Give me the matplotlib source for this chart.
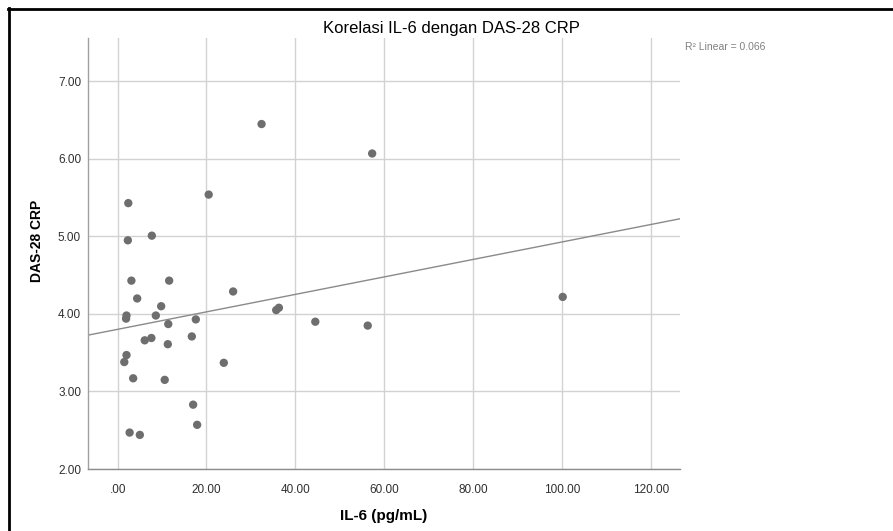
import numpy as np
import matplotlib.pyplot as plt
from matplotlib.lines import Line2D

plt.rcParams['font.family'] = ['Liberation Sans', 'DejaVu Sans']

# IL-6 (pg/mL) and DAS-28 CRP
il6 = [32.4, 57.3, 20.5, 2.4, 2.3, 7.7, 3.1, 11.6, 26.0, 4.4, 9.8, 2.0,
       1.9, 8.6, 11.4, 17.6, 35.7, 36.3, 44.5, 56.3, 100.2, 6.1, 7.6, 11.3,
       16.7, 2.0, 1.5, 23.9, 3.5, 10.6, 17.0, 17.9, 2.7, 5.0]
das28 = [6.45, 6.07, 5.54, 5.43, 4.95, 5.01, 4.43, 4.43, 4.29, 4.20, 4.10, 3.98,
         3.94, 3.98, 3.87, 3.93, 4.05, 4.08, 3.90, 3.85, 4.22, 3.66, 3.69, 3.61,
         3.71, 3.47, 3.38, 3.37, 3.17, 3.15, 2.83, 2.57, 2.47, 2.44]

xticks = [0, 20, 40, 60, 80, 100, 120]
xticklabels = ['.00', '20.00', '40.00', '60.00', '80.00', '100.00', '120.00']
yticks = [2, 3, 4, 5, 6, 7]
yticklabels = ['2.00', '3.00', '4.00', '5.00', '6.00', '7.00']
r2_text = 'R\u00b2 Linear = 0.066'

x = np.array(il6)
y = np.array(das28)
slope, intercept = np.polyfit(x, y, 1)

fig = plt.figure(figsize=(8.93, 5.31), dpi=100)
ax = fig.add_axes([88/893, 1-469/531, (680-88)/893, (469-38)/531])

xmin, xmax = -6.67, 126.6
ax.set_xlim(xmin, xmax)
ax.set_ylim(2.0, 7.56)

ax.grid(True, color='#d2d2d2', linewidth=1.0)
ax.set_axisbelow(True)
for s in ['top', 'right']:
    ax.spines[s].set_visible(False)
ax.spines['left'].set_color('#a0a0a0')
ax.spines['bottom'].set_color('#8c8c8c')
ax.spines['left'].set_linewidth(1.0)
ax.spines['bottom'].set_linewidth(1.0)

ax.set_xticks(xticks)
ax.set_xticklabels(xticklabels)
ax.set_yticks(yticks)
ax.set_yticklabels(yticklabels)
ax.tick_params(length=0, labelsize=8.5, colors='#303030', pad=5)
ax.tick_params(axis='x', pad=11)

xs = np.array([xmin, xmax])
ax.plot(xs, intercept + slope*xs, color='#8a8a8a', linewidth=1.0, zorder=2)
ax.scatter(x, y, s=36, color='#6e6e6e', edgecolors='none', zorder=3)

ax.set_xlabel('IL-6 (pg/mL)', fontsize=11, fontweight='bold', labelpad=9)
ax.set_ylabel('DAS-28 CRP', fontsize=10, fontweight='bold')
ax.yaxis.set_label_coords(-0.074, 0.53)

fig.text(0.505, 1-28/531, 'Korelasi IL-6 dengan DAS-28 CRP', ha='center', va='center', fontsize=12)
fig.text(685/893, 1-47/531, r2_text, ha='left', va='center', fontsize=7.5, color='#808080')

# black frame (left and top edges)
fig.add_artist(Line2D([9/893, 9/893], [0, 1-8/531], color='black', linewidth=2, transform=fig.transFigure))
fig.add_artist(Line2D([8/893, 1], [1-8.5/531, 1-8.5/531], color='black', linewidth=2, transform=fig.transFigure))

fig.savefig('out.png', dpi=100)
